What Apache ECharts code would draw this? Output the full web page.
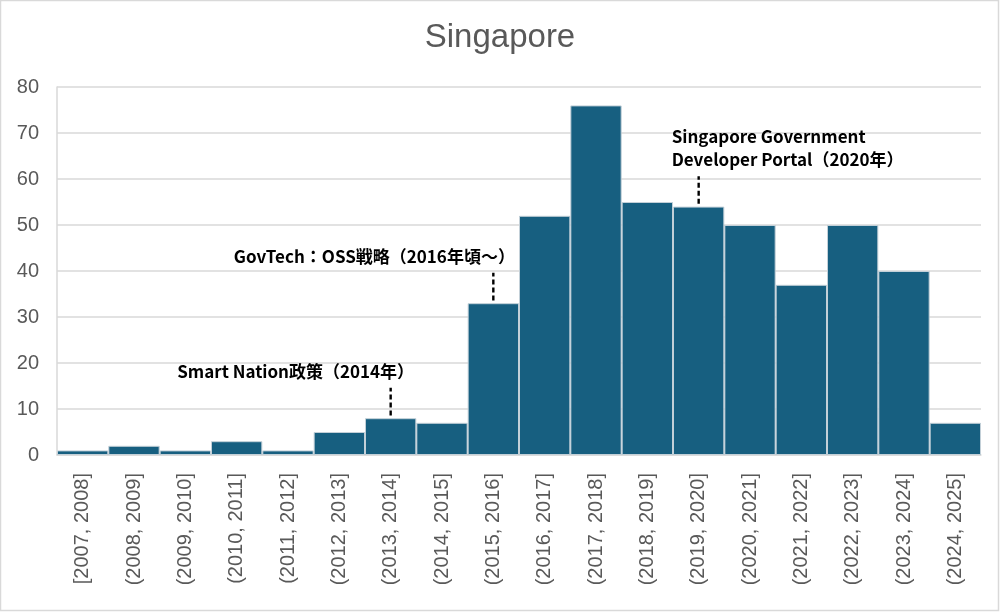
<!DOCTYPE html>
<html><head><meta charset="utf-8">
<script src="https://cdn.jsdelivr.net/npm/echarts@6/dist/echarts.min.js"></script>
<style>html,body{margin:0;padding:0;background:#fff}#c{width:1000px;height:612px}</style>
</head><body><div id="c"></div>
<script>
const categories = ['[2007, 2008]','(2008, 2009]','(2009, 2010]','(2010, 2011]','(2011, 2012]','(2012, 2013]','(2013, 2014]','(2014, 2015]','(2015, 2016]','(2016, 2017]','(2017, 2018]','(2018, 2019]','(2019, 2020]','(2020, 2021]','(2021, 2022]','(2022, 2023]','(2023, 2024]','(2024, 2025]'];
const counts = [1,2,1,3,1,5,8,7,33,52,76,55,54,50,37,50,40,7];
const yTicks = [0,10,20,30,40,50,60,70,80];
const annotationCats = [6, 8, 12];
const annotationTexts = ['Smart Nation政策（2014年）', 'GovTech：OSS戦略（2016年頃～）', 'Singapore Government\nDeveloper Portal（2020年）'];

const labelStyle = [
  {dx: -95, align: 'center'},
  {dx: -119, align: 'center'},
  {dx: -27, align: 'left'}
];

const chart = echarts.init(document.getElementById('c'));
chart.setOption({
  animation: false,
  backgroundColor: '#fff',
  title: {text: 'Singapore', left: 'center', top: 16,
    textStyle: {fontFamily: 'Liberation Sans', fontSize: 33, fontWeight: 'normal', color: '#595959'}},
  grid: {left: 57, right: 19, top: 87, bottom: 157},
  xAxis: {type: 'category', data: categories,
    axisLine: {lineStyle: {color: '#d9d9d9', width: 1.5}}, axisTick: {show: false},
    axisLabel: {rotate: 90, fontSize: 20, color: '#595959', fontFamily: 'Liberation Sans', margin: 18, interval: 0}},
  yAxis: {type: 'value', min: 0, max: 80, interval: 10,
    axisLine: {show: true, lineStyle: {color: '#d9d9d9', width: 1.5}},
    splitLine: {lineStyle: {color: '#d9d9d9', width: 1.5}},
    axisLabel: {fontSize: 20, color: '#595959', fontFamily: 'Liberation Sans', margin: 18,
      formatter: v => yTicks.includes(v) ? String(v) : ''}},
  series: [
    {type: 'bar', data: counts, barCategoryGap: '0%',
      itemStyle: {color: '#175f80', borderColor: '#c3d0d8', borderWidth: 1}},
    {type: 'custom', data: annotationCats.map((c, i) => [c, counts[c], i]),
      renderItem: function (params, api) {
        const i = api.value(2);
        const p0 = api.coord([api.value(0), api.value(1) + 0.6]);
        const p1 = api.coord([api.value(0), api.value(1) + 6.6]);
        const st = labelStyle[i];
        return {type: 'group', children: [
          {type: 'line', shape: {x1: p0[0], y1: p0[1], x2: p1[0], y2: p1[1]},
            style: {stroke: '#000', lineWidth: 2.4, lineDash: [5, 3]}},
          {type: 'text', x: p1[0] + st.dx, y: p1[1] - 5,
            style: {text: annotationTexts[i], textAlign: st.align, textVerticalAlign: 'bottom',
              font: 'bold 17px "Noto Sans CJK JP", "Noto Sans", sans-serif', fill: '#000', lineHeight: 23}}
        ]};
      }, z: 5}
  ],
  graphic: [{type: 'rect', shape: {x: 0.5, y: 0.5, width: 998, height: 610},
    style: {fill: 'none', stroke: '#d9d9d9', lineWidth: 1.5}}]
});
</script></body></html>
